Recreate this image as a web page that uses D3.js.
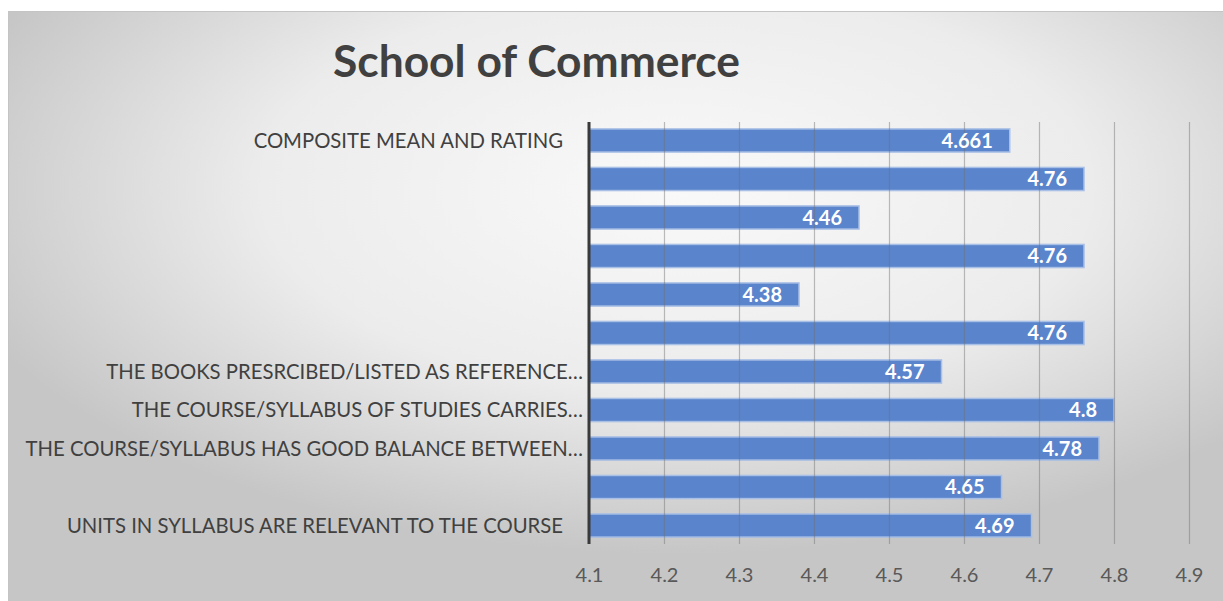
<!DOCTYPE html>
<html>
<head>
<meta charset="utf-8">
<script src="https://cdn.jsdelivr.net/npm/d3@7"></script>
<style>
  body { margin: 0; background: #fff; }
  svg { display: block; }
</style>
</head>
<body>
<div id="chart"></div>
<script>
// categories from bottom to top (Excel skipped some labels)
var categories = [
  "UNITS IN SYLLABUS ARE RELEVANT TO THE COURSE",
  "",
  "THE COURSE/SYLLABUS HAS GOOD BALANCE BETWEEN…",
  "THE COURSE/SYLLABUS OF STUDIES CARRIES…",
  "THE BOOKS PRESRCIBED/LISTED AS REFERENCE…",
  "",
  "",
  "",
  "",
  "",
  "COMPOSITE MEAN AND RATING"
];
var values = [4.69, 4.65, 4.78, 4.8, 4.57, 4.76, 4.38, 4.76, 4.46, 4.76, 4.661];
var valueLabels = ["4.69", "4.65", "4.78", "4.8", "4.57", "4.76", "4.38", "4.76", "4.46", "4.76", "4.661"];
var xTicks = [4.1, 4.2, 4.3, 4.4, 4.5, 4.6, 4.7, 4.8, 4.9];

var svgWidth = 1223, svgHeight = 601;
var margin = { top: 122, bottom: 57, left: 589, right: 34 };
var width = svgWidth - margin.left - margin.right;
var height = svgHeight - margin.top - margin.bottom;

var svg = d3.select("#chart").append("svg")
  .attr("width", svgWidth)
  .attr("height", svgHeight);

// background gradient
var defs = svg.append("defs");
var grad = defs.append("radialGradient")
  .attr("id", "bg")
  .attr("cx", 0.55).attr("cy", 0.3).attr("r", 0.62);
grad.append("stop").attr("offset", "0%").attr("stop-color", "#f9f9f9");
grad.append("stop").attr("offset", "55%").attr("stop-color", "#ececec");
grad.append("stop").attr("offset", "100%").attr("stop-color", "#c6c6c6");

svg.append("rect")
  .attr("x", 8.5).attr("y", 11.5)
  .attr("width", svgWidth - 8).attr("height", svgHeight - 11)
  .attr("fill", "url(#bg)")
  .attr("stroke", "#c4c4c4");

// title
svg.append("text")
  .attr("x", 333).attr("y", 77)
  .attr("font-family", "Lato, 'Open Sans', sans-serif")
  .attr("font-weight", "bold")
  .attr("font-size", 43)
  .attr("fill", "#404040")
  .attr("textLength", 407)
  .attr("lengthAdjust", "spacingAndGlyphs")
  .text("School of Commerce");

var chartGroup = svg.append("g")
  .attr("transform", `translate(${margin.left}, ${margin.top})`);

var xLinearScale = d3.scaleLinear()
  .domain([4.1, 4.9])
  .range([0, width]);

var yBandScale = d3.scaleBand()
  .domain(d3.range(categories.length))
  .range([height, 0])
  .paddingInner(0.4)
  .paddingOuter(0.18);

// bars
chartGroup.selectAll(".bar")
  .data(values)
  .enter()
  .append("rect")
  .attr("class", "bar")
  .attr("x", 0)
  .attr("y", (d, i) => yBandScale(i))
  .attr("width", d => xLinearScale(d))
  .attr("height", yBandScale.bandwidth())
  .attr("fill", "#5a84cc")
  .attr("stroke", "#a8bfe6")
  .attr("stroke-width", 1.5);

// vertical gridlines (drawn over the bars, semi-transparent)
var xAxis = d3.axisBottom(xLinearScale)
  .tickValues(xTicks)
  .tickSize(height)
  .tickFormat(d3.format(".1f"));

var gx = chartGroup.append("g")
  .call(xAxis);
gx.select(".domain").remove();
gx.selectAll(".tick line")
  .attr("stroke", "#6f6f6f")
  .attr("stroke-opacity", 0.45)
  .attr("stroke-width", 1.2);
gx.selectAll(".tick text")
  .attr("y", height + 24)
  .attr("dy", "0.71em")
  .attr("font-family", "Lato, 'Open Sans', sans-serif")
  .attr("font-size", 20)
  .attr("fill", "#595959");

// value labels
chartGroup.selectAll(".val")
  .data(values)
  .enter()
  .append("text")
  .attr("class", "val")
  .attr("x", d => xLinearScale(d) - 17)
  .attr("y", (d, i) => yBandScale(i) + yBandScale.bandwidth() / 2)
  .attr("dy", "0.36em")
  .attr("text-anchor", "end")
  .attr("font-family", "Lato, 'Open Sans', sans-serif")
  .attr("font-weight", "bold")
  .attr("font-size", 20)
  .attr("fill", "#ffffff")
  .text((d, i) => valueLabels[i]);

// category labels
chartGroup.selectAll(".cat")
  .data(categories)
  .enter()
  .append("text")
  .attr("class", "cat")
  .attr("x", d => d.endsWith("…") ? -6 : -26)
  .attr("y", (d, i) => yBandScale(i) + yBandScale.bandwidth() / 2)
  .attr("dy", "0.36em")
  .attr("text-anchor", "end")
  .attr("font-family", "Lato, 'Open Sans', sans-serif")
  .attr("font-size", 20.3)
  .attr("fill", "#404040")
  .text(d => d);

// left axis line
chartGroup.append("line")
  .attr("x1", 0).attr("x2", 0)
  .attr("y1", 0).attr("y2", height)
  .attr("stroke", "#3a3a3a")
  .attr("stroke-width", 3);
</script>
</body>
</html>
